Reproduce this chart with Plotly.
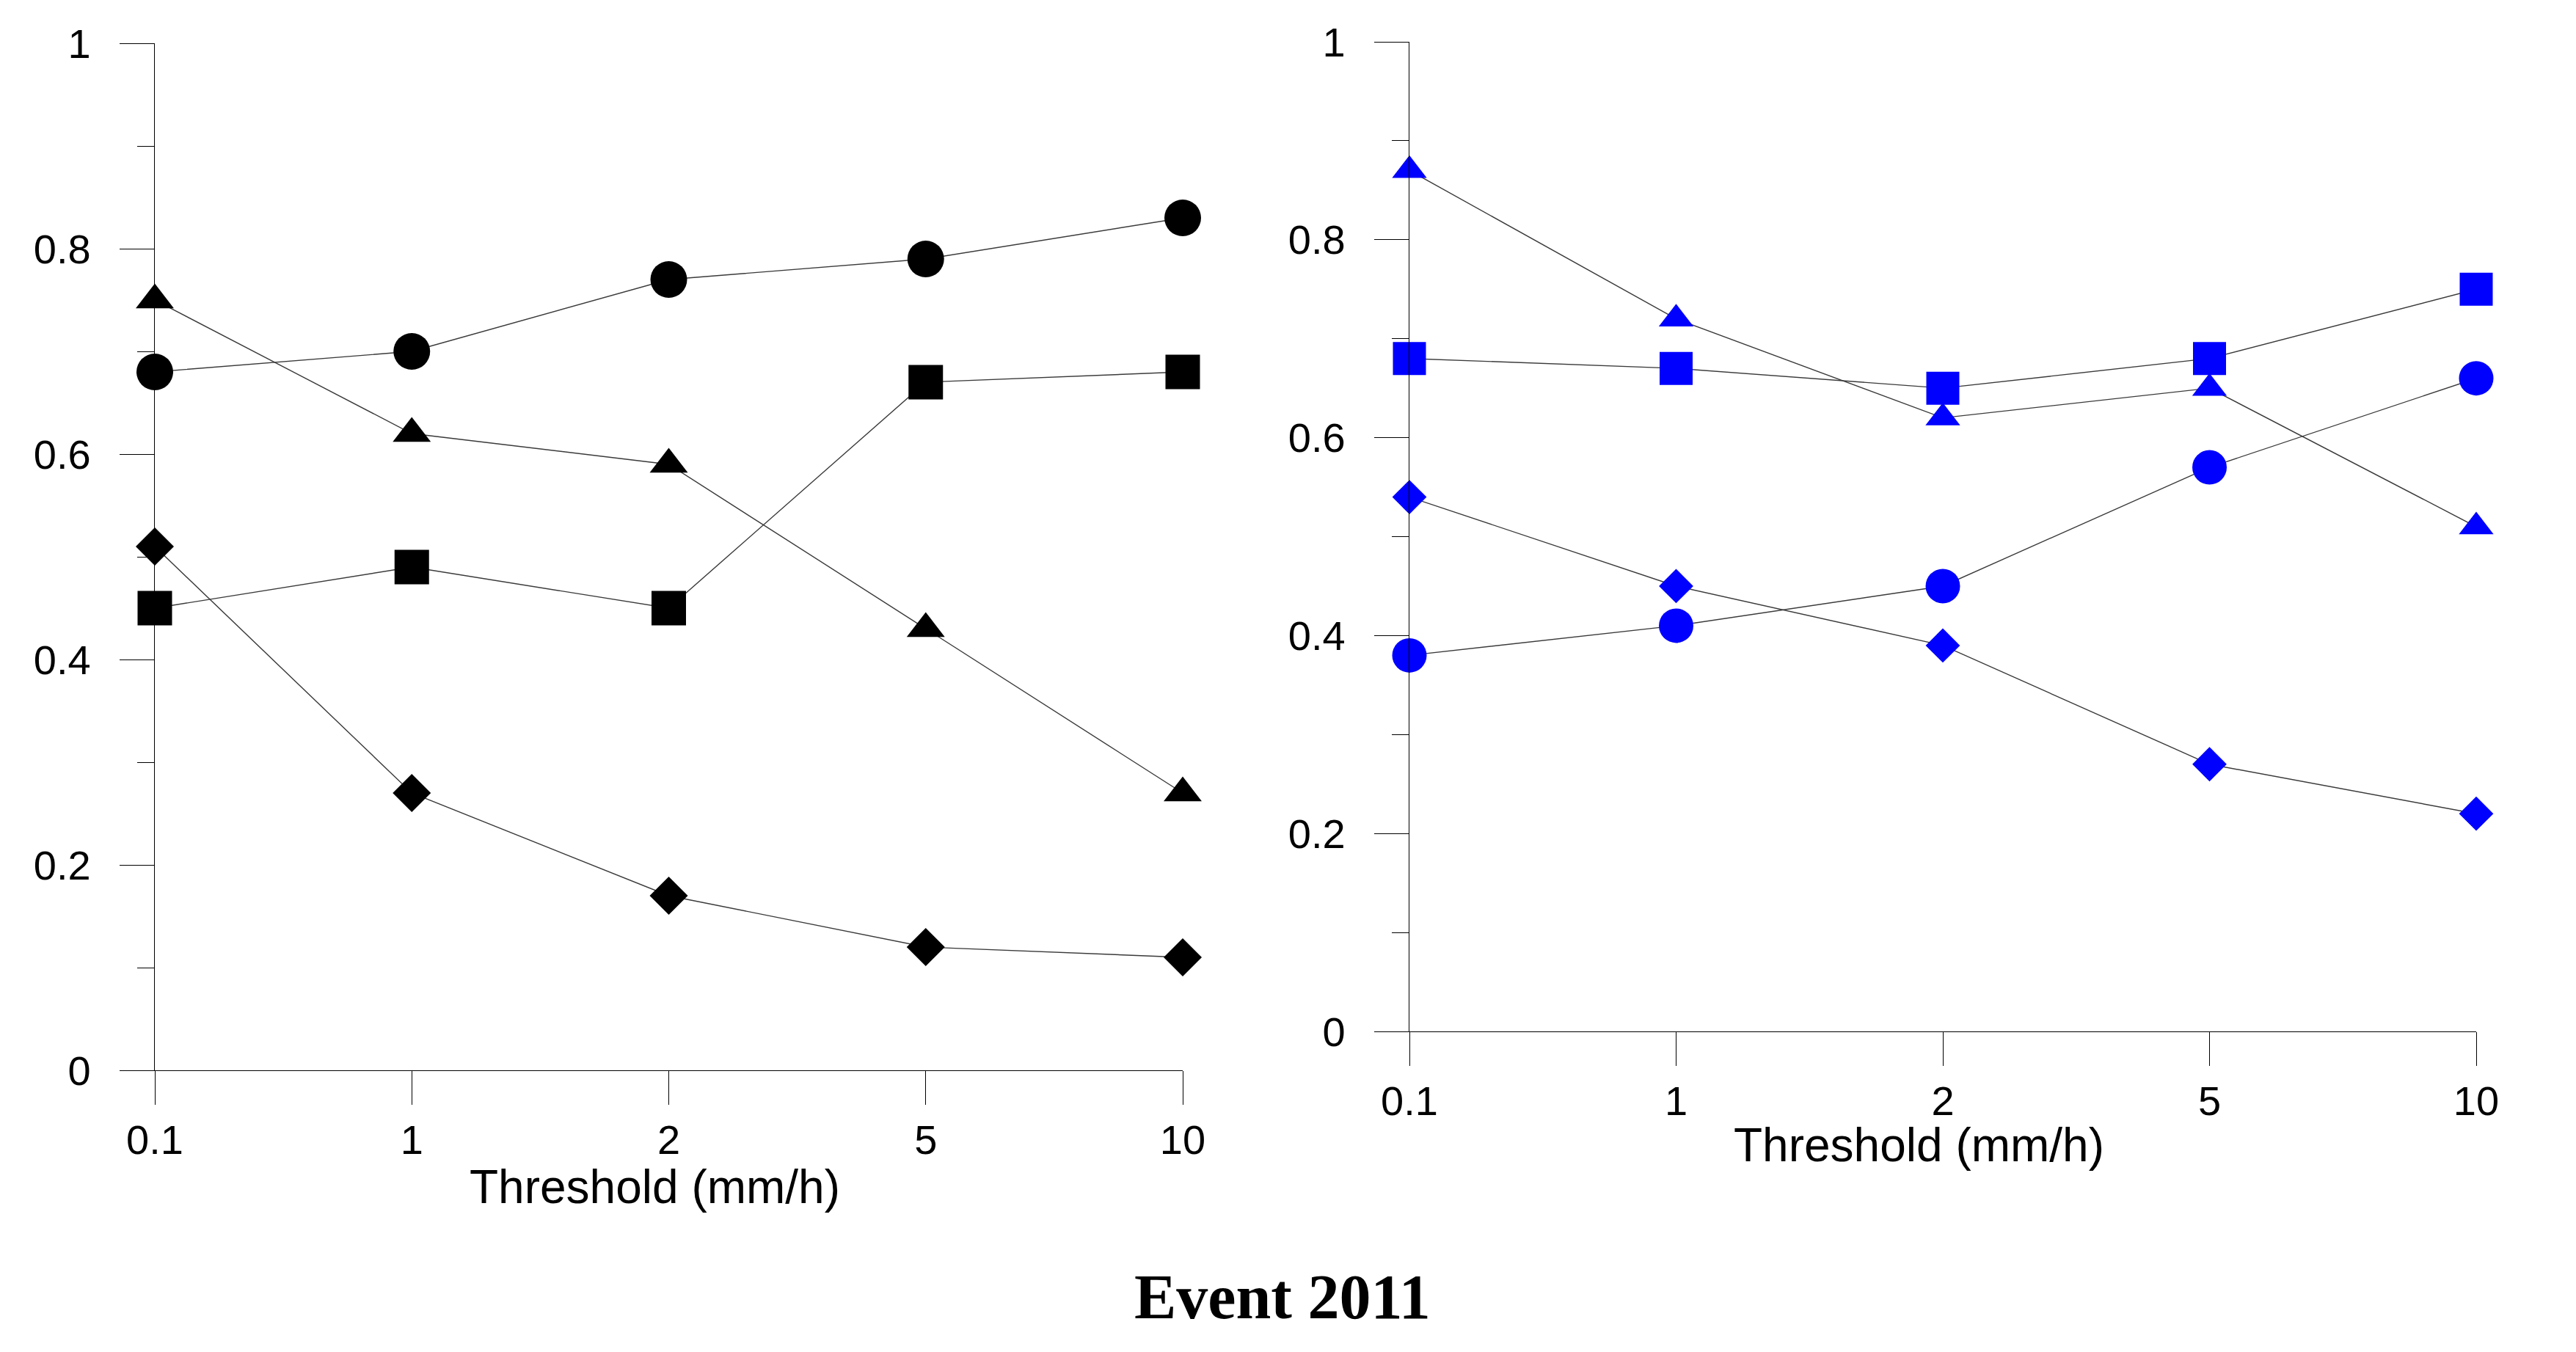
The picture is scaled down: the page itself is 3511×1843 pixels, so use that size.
import plotly.graph_objects as go

W, H = 3511, 1843

thresholds = ["0.1", "1", "2", "5", "10"]

# Left panel (black)
left_circle = [0.68, 0.70, 0.77, 0.79, 0.83]
left_triangle = [0.75, 0.62, 0.59, 0.43, 0.27]
left_square = [0.45, 0.49, 0.45, 0.67, 0.68]
left_diamond = [0.51, 0.27, 0.17, 0.12, 0.11]

# Right panel (blue)
right_triangle = [0.87, 0.72, 0.62, 0.65, 0.51]
right_square = [0.68, 0.67, 0.65, 0.68, 0.75]
right_circle = [0.38, 0.41, 0.45, 0.57, 0.66]
right_diamond = [0.54, 0.45, 0.39, 0.27, 0.22]

y_ticks = [0, 0.2, 0.4, 0.6, 0.8, 1]
y_ticktext = ["0", "0.2", "0.4", "0.6", "0.8", "1"]

LINE = dict(color="#3a3a3a", width=1.4)
TICKFONT = dict(family="Liberation Sans, Arial, sans-serif", size=56, color="black")

fig = go.Figure()

def add(xref, yref, yvals, symbol, size, color):
    fig.add_trace(go.Scatter(
        x=thresholds, y=yvals, mode="lines+markers",
        xaxis=xref, yaxis=yref,
        line=LINE,
        marker=dict(symbol=symbol, size=size, color=color, line=dict(width=0)),
        cliponaxis=False, showlegend=False, hoverinfo="skip",
    ))

add("x", "y", left_circle, "circle", 50, "black")
add("x", "y", left_triangle, "triangle-up", 45, "black")
add("x", "y", left_square, "square", 47, "black")
add("x", "y", left_diamond, "diamond", 40, "black")

add("x2", "y2", right_triangle, "triangle-up", 41, "#0000FF")
add("x2", "y2", right_square, "square", 45, "#0000FF")
add("x2", "y2", right_circle, "circle", 47, "#0000FF")
add("x2", "y2", right_diamond, "diamond", 36, "#0000FF")

def xaxis(domain, anchor):
    return dict(
        domain=domain, anchor=anchor, type="category",
        categoryorder="array", categoryarray=thresholds,
        range=[0, 4], showline=True, linecolor="black", linewidth=1.3,
        ticks="outside", ticklen=46, tickwidth=1.3, tickcolor="black",
        tickfont=TICKFONT, ticklabelstandoff=0, automargin=False,
        showgrid=False, zeroline=False,
    )

def yaxis(domain, anchor):
    return dict(
        domain=domain, anchor=anchor, range=[0, 1],
        tickvals=y_ticks, ticktext=y_ticktext,
        showline=True, linecolor="black", linewidth=1.3,
        ticks="outside", ticklen=47, tickwidth=1.3, tickcolor="black",
        tickfont=TICKFONT, ticklabelstandoff=28, automargin=False,
        minor=dict(dtick=0.1, tick0=0, ticks="outside", ticklen=23,
                   tickwidth=1.3, tickcolor="black", showgrid=False),
        showgrid=False, zeroline=False,
    )

fig.update_layout(
    width=W, height=H,
    margin=dict(l=0, r=0, t=0, b=0, autoexpand=False),
    paper_bgcolor="white", plot_bgcolor="white",
    xaxis=xaxis([203 / W, 1604 / W], "y"),
    yaxis=yaxis([1 - 1451 / H, 1 - 51 / H], "x"),
    xaxis2=xaxis([1913 / W, 3367 / W], "y2"),
    yaxis2=yaxis([1 - 1398 / H, 1 - 49 / H], "x2"),
)

TITLEFONT = dict(family="Liberation Sans, Arial, sans-serif", size=64, color="black")
fig.add_annotation(text="Threshold (mm/h)", xref="paper", yref="paper",
                   x=884 / W, y=1 - 1610 / H, xanchor="center", yanchor="middle",
                   showarrow=False, font=TITLEFONT)
fig.add_annotation(text="Threshold (mm/h)", xref="paper", yref="paper",
                   x=2607 / W, y=1 - 1553 / H, xanchor="center", yanchor="middle",
                   showarrow=False, font=TITLEFONT)
fig.add_annotation(text="<b>Event 2011</b>", xref="paper", yref="paper",
                   x=1740 / W, y=1 - 1760 / H, xanchor="center", yanchor="middle",
                   showarrow=False,
                   font=dict(family="Liberation Serif, Times New Roman, serif", size=86, color="black"))

fig.write_html("out.html")
